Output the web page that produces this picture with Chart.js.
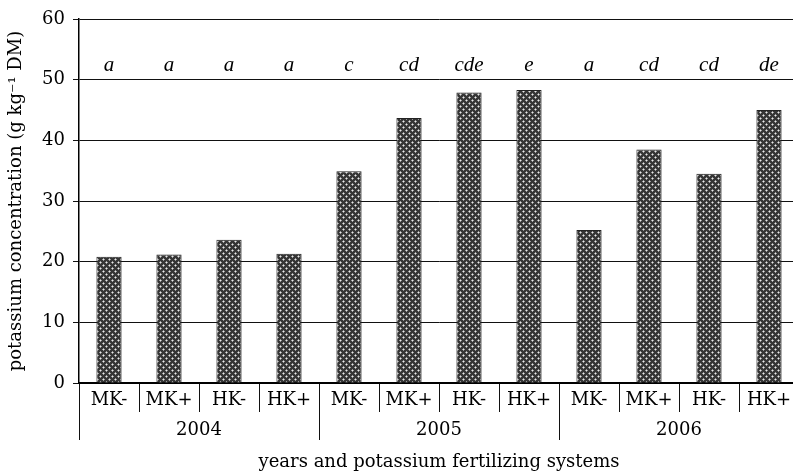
<!DOCTYPE html>
<html>
<head>
<meta charset="utf-8">
<script src="https://cdn.jsdelivr.net/npm/chart.js@4/dist/chart.umd.min.js"></script>
<style>
  html, body { margin: 0; padding: 0; background: #fff; overflow: hidden; }
  #wrap { width: 799px; height: 474px; position: relative; }
</style>
</head>
<body>
<div id="wrap"><canvas id="c" width="799" height="474"></canvas></div>
<script>
const categories = ['MK-','MK+','HK-','HK+','MK-','MK+','HK-','HK+','MK-','MK+','HK-','HK+'];
const years = ['2004','2005','2006'];
const values = [20.8, 21.2, 23.6, 21.3, 34.9, 43.7, 47.9, 48.3, 25.2, 38.5, 34.5, 45.0];
const letters = ['a','a','a','a','c','cd','cde','e','a','cd','cd','de'];
const yTicks = [0, 10, 20, 30, 40, 50, 60];
const letterLevel = 52.3;

function makePattern() {
  const t = document.createElement('canvas');
  t.width = 6; t.height = 6;
  const g = t.getContext('2d');
  g.fillStyle = '#353535';
  g.fillRect(0, 0, 6, 6);
  const px = (x, y, c) => { g.fillStyle = c; g.fillRect(((x % 6) + 6) % 6, ((y % 6) + 6) % 6, 1, 1); };
  [[1,1],[4,4]].forEach(([cx, cy]) => {
    px(cx, cy, '#e8e8e8');
    px(cx - 1, cy, '#9a9a9a'); px(cx + 1, cy, '#9a9a9a');
    px(cx, cy - 1, '#9a9a9a'); px(cx, cy + 1, '#9a9a9a');
  });
  return document.getElementById('c').getContext('2d').createPattern(t, 'repeat');
}

const serif = 'DejaVu Serif';
const ink = '#000';

const lettersPlugin = {
  id: 'letters',
  afterDatasetsDraw(chart) {
    const ctx = chart.ctx;
    const xs = chart.scales.x, ys = chart.scales.y;
    ctx.save();
    ctx.fillStyle = ink;
    ctx.font = 'italic 21px "Liberation Serif"';
    ctx.textAlign = 'center';
    ctx.textBaseline = 'middle';
    letters.forEach((l, i) => {
      ctx.fillText(l, xs.getPixelForValue(i), ys.getPixelForValue(letterLevel));
    });
    ctx.restore();
  }
};

new Chart(document.getElementById('c'), {
  type: 'bar',
  data: {
    labels: categories,
    datasets: [{
      data: values,
      backgroundColor: makePattern(),
      borderColor: '#222',
      borderWidth: 1,
      barPercentage: 0.42,
      categoryPercentage: 1.0
    }]
  },
  options: {
    responsive: false,
    animation: false,
    events: [],
    layout: { padding: { top: 19, right: 0, left: 0, bottom: 0 } },
    plugins: { legend: { display: false }, tooltip: { enabled: false } },
    scales: {
      x: {
        type: 'category',
        position: 'bottom',
        offset: true,
        grid: { offset: true, drawOnChartArea: false, drawTicks: true, tickLength: 29, color: '#111', lineWidth: 1 },
        border: { display: true, color: '#000', width: 2 },
        ticks: { color: ink, font: { family: serif, size: 18 }, padding: -22, maxRotation: 0, autoSkip: false },
        afterFit: s => { s.height = 29; }
      },
      x2: {
        type: 'category',
        position: 'bottom',
        labels: years,
        offset: true,
        grid: { offset: true, drawOnChartArea: false, drawTicks: true, tickLength: 28, color: '#111', lineWidth: 1 },
        border: { display: false },
        ticks: { color: ink, font: { family: serif, size: 18 }, padding: -20, maxRotation: 0, autoSkip: false },
        title: { display: true, text: 'years and potassium fertilizing systems', color: ink, font: { family: serif, size: 18 }, padding: { top: 0, bottom: 1 } },
        afterFit: s => { s.height = 62; }
      },
      y: {
        min: 0, max: 60,
        afterBuildTicks: s => { s.ticks = yTicks.map(v => ({ value: v })); },
        grid: { color: '#111', lineWidth: 1, drawTicks: true, tickLength: 6 },
        border: { display: true, color: '#000', width: 1.5 },
        ticks: { color: ink, font: { family: serif, size: 18 }, padding: 8 },
        title: { display: true, text: 'potassium concentration (g kg\u207B\u00B9 DM)', color: ink, font: { family: serif, size: 18 }, padding: { top: 6, bottom: 0 } },
        afterFit: s => { s.width = 79; }
      }
    }
  },
  plugins: [lettersPlugin]
});
</script>
</body>
</html>
